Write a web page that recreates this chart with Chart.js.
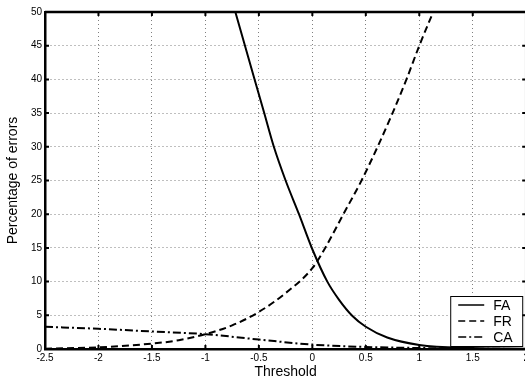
<!DOCTYPE html>
<html>
<head>
<meta charset="utf-8">
<script src="https://cdn.jsdelivr.net/npm/chart.js"></script>
<style>
body { margin: 0; overflow: hidden; background: #fff; }
#wrap { position: relative; width: 532px; height: 381px; }
</style>
</head>
<body>
<div id="wrap"><canvas id="chart1"></canvas></div>
<script>
// values
var faX = [-0.72, -0.63, -0.54, -0.45, -0.36, -0.25, -0.125, 0, 0.14, 0.25, 0.375, 0.5, 0.7, 1.0, 1.5, 2.0];
var faY = [50, 45, 40, 35, 30, 25, 20, 14.8, 10, 7.3, 4.9, 3.3, 1.7, 0.6, 0.15, 0.05];

var frX = [-2.5, -2, -1.5, -1.25, -1, -0.75, -0.5, -0.25, 0, 0.12, 0.29, 0.46, 0.61, 0.75, 0.88, 1.0, 1.13];
var frY = [0.05, 0.25, 0.8, 1.3, 2.2, 3.5, 5.5, 8.3, 12, 15, 20, 25, 30, 35, 40, 45, 50];

var caX = [-2.5, -2, -1.5, -1, -0.5, 0, 0.5, 1, 1.5, 2];
var caY = [3.3, 3.0, 2.6, 2.2, 1.4, 0.65, 0.3, 0.15, 0.05, 0];

var xTitle = 'Threshold';
var yTitle = 'Percentage of errors';

function pts(xs, ys) {
    return xs.map(function (x, i) { return { x: x, y: ys[i] }; });
}

function tickText(v) {
    return String(Math.round(v * 10) / 10);
}

var font = 'Liberation Sans, Arial, Helvetica, sans-serif';

// top/right frame, inward ticks and the boxed legend
var framePlugin = {
    id: 'frame',
    afterDatasetsDraw: function (chart) {
        var ctx = chart.ctx, a = chart.chartArea;
        var xs = chart.scales.x, ys = chart.scales.y;
        ctx.save();
        ctx.strokeStyle = '#000';
        ctx.lineWidth = 2;
        ctx.beginPath();
        xs.ticks.forEach(function (t) {
            var px = xs.getPixelForValue(t.value);
            ctx.moveTo(px, a.top); ctx.lineTo(px, a.top + 4);
            ctx.moveTo(px, a.bottom); ctx.lineTo(px, a.bottom - 4);
        });
        ys.ticks.forEach(function (t) {
            var py = ys.getPixelForValue(t.value);
            ctx.moveTo(a.left, py); ctx.lineTo(a.left + 4, py);
            ctx.moveTo(a.right, py); ctx.lineTo(a.right - 4, py);
        });
        ctx.stroke();
        ctx.lineWidth = 2.5;
        ctx.beginPath();
        ctx.moveTo(a.left, a.top);
        ctx.lineTo(a.right, a.top);
        ctx.lineTo(a.right, a.bottom);
        ctx.stroke();

        // legend
        var w = 72, h = 50;
        var bx = a.right - 4 - w, by = a.bottom - 3 - h;
        ctx.fillStyle = '#fff';
        ctx.fillRect(bx, by, w, h);
        ctx.lineWidth = 1;
        ctx.strokeRect(bx + 0.5, by + 0.5, w, h);
        ctx.font = '14px ' + font;
        ctx.textBaseline = 'middle';
        ctx.fillStyle = '#000';
        chart.data.datasets.forEach(function (ds, i) {
            var ry = by + 9 + i * 16;
            ctx.lineWidth = 1.5;
            ctx.setLineDash(ds.borderDash || []);
            ctx.beginPath();
            ctx.moveTo(bx + 8, ry);
            ctx.lineTo(bx + 34, ry);
            ctx.stroke();
            ctx.setLineDash([]);
            ctx.fillText(ds.label, bx + 43, ry + 1);
        });
        ctx.restore();
    }
};

var ch1 = document.getElementById('chart1').getContext('2d');
var chart1 = new Chart(ch1, {
    type: 'scatter',
    data: {
        datasets: [
            { label: 'FA', data: pts(faX, faY), borderDash: [] },
            { label: 'FR', data: pts(frX, frY), borderDash: [7, 4] },
            { label: 'CA', data: pts(caX, caY), borderDash: [8, 3, 2, 3] }
        ]
    },
    options: {
        responsive: true,
        maintainAspectRatio: false,
        animation: false,
        layout: { padding: { top: 12, left: 0, right: 0, bottom: 0 } },
        elements: {
            line: { borderColor: '#000', borderWidth: 2, cubicInterpolationMode: 'monotone', fill: false },
            point: { radius: 0, hoverRadius: 0 }
        },
        datasets: { scatter: { showLine: true } },
        plugins: {
            legend: { display: false },
            tooltip: { enabled: false }
        },
        scales: {
            x: {
                type: 'linear',
                min: -2.5,
                max: 2,
                afterFit: function (s) { s.height = 32; },
                ticks: { stepSize: 0.5, color: '#000', padding: 3, font: { family: font, size: 10 }, callback: tickText },
                grid: { color: 'rgba(0,0,0,0.5)', lineWidth: 1, drawTicks: false },
                border: { color: '#000', width: 2.5, dash: [1, 3] },
                title: { display: true, text: xTitle, color: '#000', padding: { top: 0, bottom: 0 }, font: { family: font, size: 14 } }
            },
            y: {
                type: 'linear',
                min: 0,
                max: 50,
                afterFit: function (s) { s.width = 45; },
                ticks: { stepSize: 5, color: '#000', padding: 3, font: { family: font, size: 10 }, callback: tickText },
                grid: { color: 'rgba(0,0,0,0.5)', lineWidth: 1, drawTicks: false },
                border: { color: '#000', width: 2.5, dash: [1, 3] },
                title: { display: true, text: yTitle, color: '#000', padding: { top: 5, bottom: 0 }, font: { family: font, size: 14 } }
            }
        }
    },
    plugins: [framePlugin]
});
</script>
</body>
</html>
